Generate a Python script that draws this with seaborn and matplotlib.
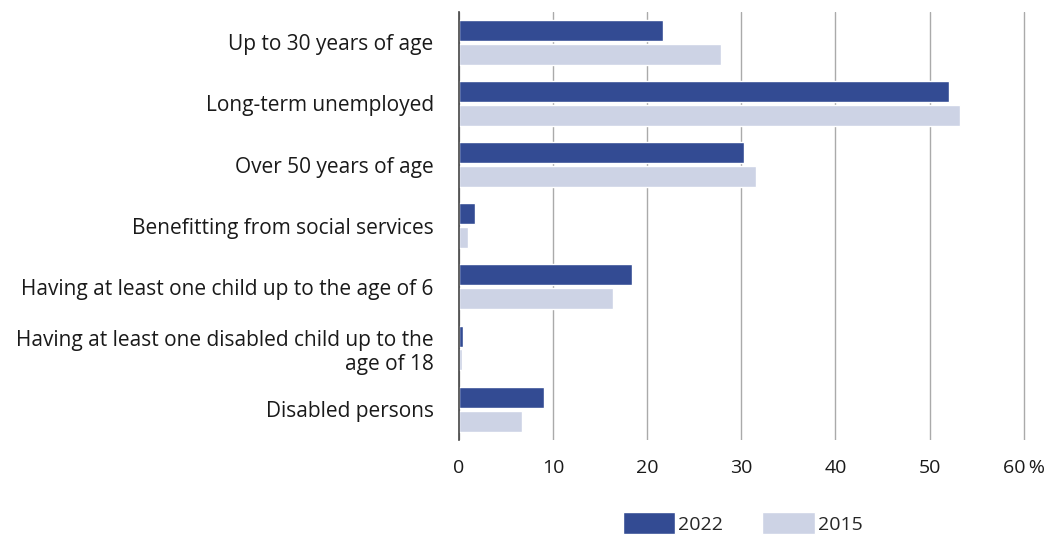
import pandas as pd
import matplotlib.pyplot as plt
import seaborn as sns

# Categories and values (% shares)
categories = [
    "Up to 30 years of age",
    "Long-term unemployed",
    "Over 50 years of age",
    "Benefitting from social services",
    "Having at least one child up to the age of 6",
    "Having at least one disabled child up to the\nage of 18",
    "Disabled persons",
]
values_2022 = [21.7, 52.1, 30.3, 1.7, 18.4, 0.4, 9.1]
values_2015 = [27.8, 53.2, 31.6, 1.0, 16.4, 0.3, 6.7]
years = ["2022", "2015"]
tick_values = [0, 10, 20, 30, 40, 50, 60]
tick_labels = ["0", "10", "20", "30", "40", "50", "60\u2009%"]

df = pd.DataFrame({
    "category": categories * 2,
    "value": values_2022 + values_2015,
    "year": [years[0]] * len(categories) + [years[1]] * len(categories),
})

sns.set_theme(style="white")
plt.rcParams["font.family"] = ["Open Sans", "DejaVu Sans"]

fig, ax = plt.subplots(figsize=(10.57, 5.35), dpi=100)
fig.subplots_adjust(left=0.434, right=0.982, top=0.978, bottom=0.178)

palette = {"2022": "#334b93", "2015": "#cdd3e5"}
sns.barplot(data=df, y="category", x="value", hue="year", hue_order=years,
            palette=palette, orient="h", width=0.78, gap=0.12,
            saturation=1, ax=ax, legend=True)

ax.set_xlim(0, 61.5)
ax.set_ylim(6.5, -0.5)
ax.set_xticks(tick_values)
ax.set_xticklabels(tick_labels, fontsize=14, color="#1a1a1a")
ax.tick_params(axis="y", labelsize=15, colors="#1a1a1a", length=0, pad=18)
ax.tick_params(axis="x", length=0, pad=14)
for lbl in ax.get_yticklabels():
    lbl.set_horizontalalignment("right")
    lbl.set_multialignment("right")
ax.set_xlabel("")
ax.set_ylabel("")

ax.grid(axis="x", color="#aaaaaa", linewidth=1)
ax.set_axisbelow(True)
for side in ["top", "right", "bottom"]:
    ax.spines[side].set_visible(False)
ax.spines["left"].set_color("#444444")
ax.spines["left"].set_linewidth(1.2)

leg = ax.legend(loc="center", bbox_to_anchor=(0.49, -0.195), ncol=2,
                frameon=False, fontsize=14, handlelength=2.7, handleheight=1.4,
                columnspacing=2.0, handletextpad=0.15)

fig.savefig("out.png", dpi=100)
